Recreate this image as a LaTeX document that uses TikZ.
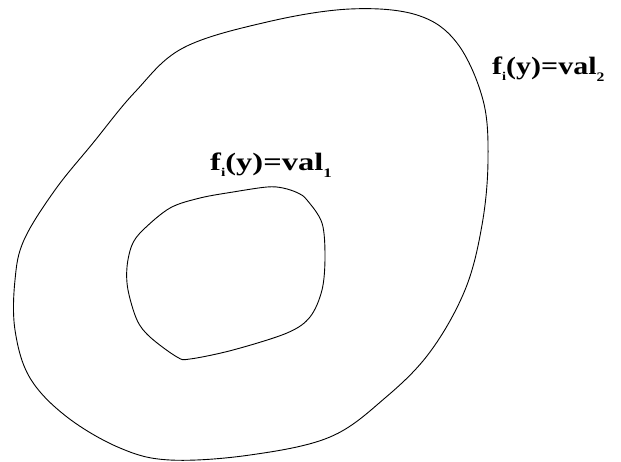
\documentclass[tikz,border=0pt]{standalone}
\usepackage{fontspec}
\setmainfont{Liberation Serif}
\newcommand{\lbltext}[2]{\scalebox{#1}[1]{f\raisebox{-6pt}{\fontsize{12}{12}\selectfont i}(y)=val\raisebox{-7pt}{\fontsize{13}{13}\selectfont #2}}}
\begin{document}
\begin{tikzpicture}[x=1pt,y=-1pt,
  contour/.style={draw=black,line width=0.9pt},
  lbl/.style={font=\fontsize{25}{28}\selectfont\bfseries,inner sep=0pt,anchor=base west}]
\useasboundingbox (0,0) rectangle (621,461);
\draw[contour] plot[smooth cycle,tension=0.6] coordinates {
 (183,48) (267,22) (350,9) (417,15) (457,43) (483,100) (488,160)
 (482,225) (465,290) (430,352) (385,398) (330,437) (250,455) (170,460)
 (120,448) (67,417) (30,378) (15,330) (15,280) (24,240) (55,190)
 (93,143) (135,92)};
\draw[contour] plot[smooth cycle,tension=0.55] coordinates {
 (233,192) (267,187) (283,188) (298,193) (307,200) (322,223) (325,257)
 (322,290) (310,317) (287,333) (233,350) (190,359) (177,357) (150,337)
 (137,320) (128,290) (127,267) (132,245) (143,230) (170,208) (200,198)};
\node[lbl] (l2) at (492,74) {\lbltext{1.2}{2}};
\node[lbl] (l1) at (210,170) {\lbltext{1.3}{1}};
\end{tikzpicture}
\end{document}
